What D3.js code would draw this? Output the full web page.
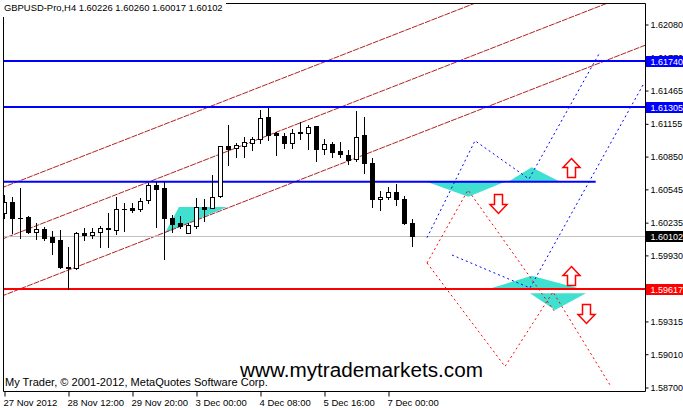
<!DOCTYPE html>
<html><head><meta charset="utf-8">
<script src="https://cdn.jsdelivr.net/npm/d3@7"></script>
<style>body{margin:0;background:#fff;} svg{display:block;font-family:'Liberation Sans',Arial,sans-serif;}</style>
</head><body><svg id="c" width="683" height="408"></svg>
<script>
// ---------------- data ----------------
const chartTitle = "GBPUSD-Pro,H4  1.60226 1.60260 1.60017 1.60102";
const watermark = "www.mytrademarkets.com";
const copyright = "My Trader, \u00A9 2001-2012, MetaQuotes Software Corp.";

const opens = [1.60320,1.60423,1.60274,1.60283,1.60143,1.60171,1.60097,1.60069,1.59822,1.59808,
1.60134,1.60116,1.60143,1.60181,1.60162,1.60358,1.60367,1.60358,1.60441,1.60581,
1.60553,1.60274,1.60227,1.60134,1.60199,1.60376,1.60367,1.60479,1.60944,1.60926,
1.60944,1.60972,1.61009,1.61214,1.61065,1.61037,1.60972,1.61065,1.61065,1.61130,
1.60916,1.60963,1.60898,1.60860,1.60823,1.61047,1.60786,1.60451,1.60469,1.60516,
1.60451,1.60226];
const highs = [1.60488,1.60469,1.60553,1.60292,1.60227,1.60190,1.60153,1.60162,1.60004,1.60143,
1.60181,1.60181,1.60199,1.60320,1.60469,1.60413,1.60413,1.60460,1.60600,1.60609,
1.60609,1.60302,1.60292,1.60227,1.60460,1.60451,1.60674,1.60944,1.61140,1.60972,
1.61028,1.61028,1.61279,1.61298,1.61074,1.61065,1.61102,1.61168,1.61140,1.61130,
1.61009,1.60981,1.60981,1.60907,1.61270,1.61214,1.60832,1.60525,1.60562,1.60590,
1.60479,1.60260];
const lows = [1.60274,1.60134,1.60088,1.60134,1.60078,1.60069,1.59939,1.59810,1.59617,1.59799,
1.60069,1.60088,1.60004,1.60004,1.60125,1.60153,1.60330,1.60339,1.60413,1.60190,
1.59892,1.60143,1.60181,1.60134,1.60181,1.60246,1.60367,1.60469,1.60767,1.60842,
1.60842,1.60907,1.60972,1.61000,1.60860,1.60926,1.60926,1.61009,1.60916,1.60805,
1.60870,1.60842,1.60842,1.60777,1.60805,1.60693,1.60376,1.60348,1.60451,1.60395,
1.60218,1.60017];
const closes = [1.60423,1.60274,1.60270,1.60143,1.60171,1.60088,1.60050,1.59818,1.59805,1.60134,
1.60116,1.60143,1.60181,1.60167,1.60358,1.60362,1.60348,1.60432,1.60581,1.60544,
1.60274,1.60218,1.60199,1.60209,1.60376,1.60358,1.60469,1.60944,1.60916,1.60953,
1.60981,1.61009,1.61205,1.61047,1.61047,1.60972,1.61065,1.61070,1.61121,1.60916,
1.60963,1.60888,1.60870,1.60814,1.61028,1.60786,1.60451,1.60469,1.60516,1.60451,
1.60226,1.60102];

const timeTickIndex = [0,8,16,24,32,40,48];
const timeTickLabels = ["27 Nov 2012","28 Nov 12:00","29 Nov 20:00","3 Dec 00:00","4 Dec 08:00","5 Dec 16:00","7 Dec 00:00"];
const priceTicks = [1.62080,1.61770,1.61465,1.61155,1.60850,1.60545,1.60235,1.59930,1.59620,1.59315,1.59010,1.58700];

const bidPrice = 1.60102;
const resistanceLevels = [1.61740, 1.61305];
const supportLevels = [1.59617];
const trendSegment = [[-0.5, 1.60612], [73.96, 1.60612]];

// channel lines: price at bar 0 and bar 51
const channelStart = [1.60563, 1.60084, 1.59555];
const channelEnd   = [1.62045, 1.61565, 1.61036];

// projections [barIndex, price]
const bluePathUpper = [[52.875,1.60090],[58.875,1.60993],[65.625,1.60637],[74.5,1.61819]];
const bluePathLower = [[56.0,1.59929],[65.75,1.59622],[79.875,1.61512]];
const redPathUpper  = [[52.875,1.59855],[58.0,1.60534],[68.875,1.59398]];
const redPathLower  = [[52.875,1.59855],[62.625,1.58891],[68.625,1.59585],[75.75,1.58719]];

const triangles = [
  [[20.125,1.60134],[21.875,1.60376],[27.875,1.60376]],
  [[52.84,1.60612],[62.625,1.60612],[58.04,1.60472]],
  [[63.04,1.60612],[65.96,1.60746],[69.5,1.60612]],
  [[60.75,1.59617],[65.96,1.59736],[71.9,1.59617]],
  [[65.75,1.59573],[72.75,1.59573],[68.875,1.59417]]
];
const upArrows = [[70.875,1.60832],[70.875,1.59830]];     // tip
const downArrows = [[61.8,1.60497],[72.75,1.59473]];      // top

// ---------------- drawing ----------------
const svg = d3.select('#c');
const L = 3, R = 645, T = 3, B = 391;
const x = d3.scaleLinear().domain([0, 51]).range([4, 412]);
const y = d3.scaleLinear().domain([1.58700, 1.62080]).range([387, 24]);
const FONT = "'Liberation Sans',Arial,sans-serif";

svg.append('rect').attr('width',683).attr('height',408).attr('fill','#fff');
svg.append('defs').append('clipPath').attr('id','plot')
  .append('rect').attr('x',L).attr('y',T).attr('width',R-L).attr('height',B-T);
const g = svg.append('g').attr('clip-path','url(#plot)');

const line = d3.line().x(d=>x(d[0])).y(d=>y(d[1]));

// triangles
g.selectAll('path.tri').data(triangles).join('path').attr('class','tri')
  .attr('d', d=>line(d)+'Z').attr('fill','#40E0D0').attr('stroke','none');
g.append('path').attr('d', line([triangles[1][0], triangles[1][1]]))
  .attr('stroke','#c040c0').attr('stroke-width',1).attr('fill','none');

// channel lines
channelStart.forEach((p0,k)=>{
  const slope = (channelEnd[k]-p0)/51;
  const pts = [[-2, p0 - 2*slope],[90, p0 + 90*slope]];
  g.append('path').attr('d', line(pts)).attr('stroke','#B22222').attr('stroke-width',1)
    .attr('stroke-dasharray','6,1').attr('fill','none');
});

// bid line
const by = Math.round(y(bidPrice))+0.5;
g.append('line').attr('x1',L).attr('x2',R).attr('y1',by).attr('y2',by)
  .attr('stroke','#C0C0C0').attr('stroke-width',1);

// horizontal levels
resistanceLevels.forEach(p=>{
  g.append('line').attr('x1',L).attr('x2',R).attr('y1',Math.round(y(p))).attr('y2',Math.round(y(p)))
   .attr('stroke','#0000FF').attr('stroke-width',2);
});
supportLevels.forEach(p=>{
  g.append('line').attr('x1',L).attr('x2',R).attr('y1',Math.round(y(p))).attr('y2',Math.round(y(p)))
   .attr('stroke','#FF0000').attr('stroke-width',2);
});
g.append('path').attr('d', line(trendSegment)).attr('stroke','#0000FF').attr('stroke-width',2).attr('fill','none');

// projection dotted paths
[[bluePathUpper,'#0000FF'],[bluePathLower,'#0000FF'],[redPathUpper,'#FF0000'],[redPathLower,'#FF0000']].forEach(([pts,c])=>{
  g.append('path').attr('d', line(pts)).attr('stroke',c).attr('stroke-width',1)
    .attr('stroke-dasharray','2,3').attr('fill','none');
});

// candles
const bars = opens.map((o,i)=>({i,o,h:highs[i],l:lows[i],c:closes[i]}));
const cg = g.append('g');
bars.forEach(b=>{
  const cx = Math.round(x(b.i)) + 0.5;
  cg.append('line').attr('x1',cx).attr('x2',cx)
    .attr('y1',Math.round(y(b.h))).attr('y2',Math.round(y(b.l))+1)
    .attr('stroke','#000').attr('stroke-width',1);
  const yt = Math.round(y(Math.max(b.o,b.c))), yb = Math.round(y(Math.min(b.o,b.c)));
  if (yb - yt < 1) {
    cg.append('line').attr('x1',cx-2.5).attr('x2',cx+2.5).attr('y1',yt+0.5).attr('y2',yt+0.5)
      .attr('stroke','#000').attr('stroke-width',1);
  } else {
    cg.append('rect').attr('x',cx-2).attr('y',yt+0.5).attr('width',4).attr('height',yb-yt)
      .attr('fill', b.c>=b.o ? '#fff' : '#000').attr('stroke','#000').attr('stroke-width',1);
  }
});

// arrows
function upArrow(cx, ty){
  return `M${cx},${ty} L${cx+8.5},${ty+9} L${cx+4},${ty+9} L${cx+4},${ty+19} L${cx-4},${ty+19} L${cx-4},${ty+9} L${cx-8.5},${ty+9} Z`;
}
function downArrow(cx, ty){
  return `M${cx-4},${ty} L${cx+4},${ty} L${cx+4},${ty+10} L${cx+8.5},${ty+10} L${cx},${ty+19} L${cx-8.5},${ty+10} L${cx-4},${ty+10} Z`;
}
g.selectAll('path.up').data(upArrows).join('path').attr('class','up')
  .attr('d', d=>upArrow(Math.round(x(d[0]))+0.5, Math.round(y(d[1]))+0.5))
  .attr('fill','#fff').attr('stroke','#FF0000').attr('stroke-width',1.5);
g.selectAll('path.dn').data(downArrows).join('path').attr('class','dn')
  .attr('d', d=>downArrow(Math.round(x(d[0]))+0.5, Math.round(y(d[1]))+0.5))
  .attr('fill','#fff').attr('stroke','#FF0000').attr('stroke-width',1.5);

// frame
svg.append('path').attr('d',`M${L+0.5},${T+0.5} H${R+0.5} V${B+0.5} H${L+0.5} Z`)
  .attr('fill','none').attr('stroke','#000').attr('stroke-width',1);

// right axis
const ya = d3.axisRight(y).tickValues(priceTicks).tickFormat(d3.format('.5f')).tickSize(3).tickPadding(2);
const yaG = svg.append('g').attr('transform',`translate(${R+0.5},0.5)`).call(ya);
yaG.select('.domain').remove();
yaG.selectAll('text').attr('font-size','9px').attr('fill','#000').attr('font-family',FONT);
yaG.selectAll('line').attr('stroke','#000');

// bottom axis
const xa = d3.axisBottom(x).tickValues(timeTickIndex).tickFormat((d,i)=>timeTickLabels[i]).tickSize(5).tickPadding(3);
const xaG = svg.append('g').attr('transform',`translate(0.5,${B+0.5})`).call(xa);
xaG.select('.domain').remove();
xaG.selectAll('text').attr('font-size','9.5px').attr('text-anchor','start').attr('dx','-1.5').attr('fill','#000')
  .attr('font-family',FONT);
xaG.selectAll('line').attr('stroke','#000');

// price label boxes
function priceBox(p, bg){
  const yy = Math.round(y(p));
  svg.append('rect').attr('x',R+1).attr('y',yy-5).attr('width',683-R).attr('height',11).attr('fill',bg);
  svg.append('text').attr('x',R+5.5).attr('y',yy+3.5).attr('font-size','9px').attr('fill','#fff')
    .attr('font-family',FONT).text(d3.format('.5f')(p));
}
resistanceLevels.forEach(p=>priceBox(p,'#0000FF'));
supportLevels.forEach(p=>priceBox(p,'#FF0000'));
priceBox(bidPrice,'#000');

// title with background
svg.append('rect').attr('x',0).attr('y',0).attr('width',226).attr('height',17).attr('fill','#fff');
const tt = svg.append('text').attr('x',4).attr('y',11).attr('font-size','10px').attr('fill','#000')
  .attr('font-family',FONT).text(chartTitle);
const tl = tt.node().getComputedTextLength();
tt.attr('font-size', (10*219/tl)+'px');

// watermark
const wm = svg.append('text').attr('x',240).attr('y',377).attr('font-size','21px').attr('fill','#000')
  .attr('font-family',FONT).text(watermark);
const wl = wm.node().getComputedTextLength();
wm.attr('font-size', (21*243/wl)+'px');

// copyright
const cp = svg.append('text').attr('x',5).attr('y',386).attr('font-size','10px').attr('fill','#000')
  .attr('font-family',FONT).text(copyright);
const cl = cp.node().getComputedTextLength();
cp.attr('font-size', (10*263/cl)+'px');
</script></body></html>
